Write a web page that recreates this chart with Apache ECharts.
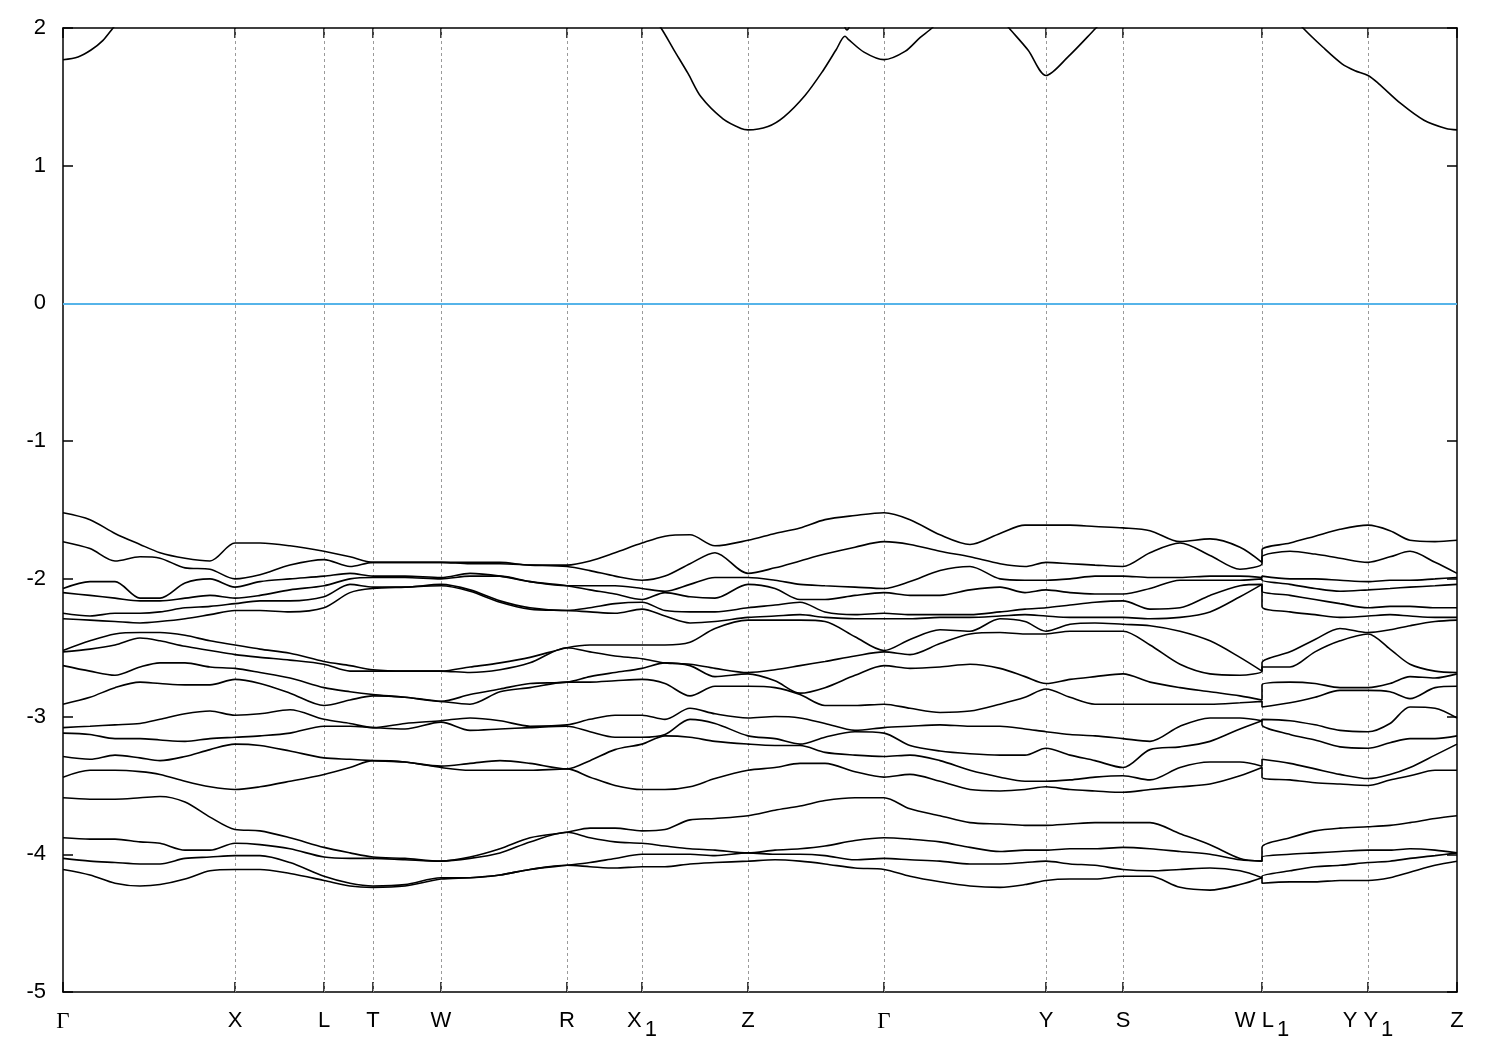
<!DOCTYPE html>
<html>
<head>
<meta charset="utf-8">
<script src="https://cdn.jsdelivr.net/npm/echarts@6/dist/echarts.min.js"></script>
<style>
html,body{margin:0;padding:0;background:#fff;}
#chart{width:1500px;height:1050px;}
</style>
</head>
<body>
<div id="chart"></div>
<script>
// k-path tick positions and names
const kTicks = [0, 1.72, 2.61, 3.10, 3.78, 5.04, 5.79, 6.85, 8.21, 9.83, 10.60, 11.99, 13.05, 13.94];
const kNames = ['Γ', 'X', 'L', 'T', 'W', 'R', 'X1', 'Z', 'Γ', 'Y', 'S', 'W L1', 'Y Y1', 'Z'];
const yTicks = [-5, -4, -3, -2, -1, 0, 1, 2];

// k sample points (shared by valence bands); W|L1 discontinuity is duplicated
const kpts = [0,0.27,0.52,0.77,0.97,1.22,1.47,1.72,1.97,2.27,2.61,2.87,3.10,3.42,3.78,4.07,4.37,4.67,5.04,5.27,5.52,5.79,6.02,6.27,6.52,6.85,7.12,7.37,7.62,7.92,8.21,8.47,8.77,9.07,9.37,9.62,9.83,10.07,10.32,10.60,10.87,11.17,11.47,11.77,11.99,11.99,12.27,12.52,12.77,13.05,13.27,13.47,13.72,13.94];

const band01 = [-1.52,-1.57,-1.67,-1.75,-1.81,-1.85,-1.87,-1.74,-1.74,-1.76,-1.80,-1.84,-1.88,-1.88,-1.88,-1.88,-1.88,-1.90,-1.90,-1.87,-1.81,-1.74,-1.69,-1.68,-1.76,-1.72,-1.67,-1.63,-1.57,-1.54,-1.52,-1.57,-1.68,-1.75,-1.67,-1.61,-1.61,-1.61,-1.62,-1.63,-1.65,-1.73,-1.71,-1.77,-1.88,-1.79,-1.74,-1.69,-1.64,-1.61,-1.65,-1.72,-1.73,-1.72];
const band02 = [-1.73,-1.78,-1.87,-1.84,-1.85,-1.92,-1.93,-2.00,-1.97,-1.90,-1.86,-1.91,-1.88,-1.88,-1.88,-1.89,-1.89,-1.90,-1.91,-1.94,-1.98,-2.01,-1.98,-1.89,-1.81,-1.96,-1.92,-1.87,-1.82,-1.77,-1.73,-1.75,-1.80,-1.84,-1.89,-1.91,-1.88,-1.89,-1.90,-1.91,-1.81,-1.74,-1.83,-1.93,-1.89,-1.84,-1.80,-1.82,-1.85,-1.88,-1.84,-1.80,-1.88,-1.96];
const band03 = [-2.07,-2.02,-2.02,-2.14,-2.14,-2.03,-2.00,-2.06,-2.02,-2.00,-1.98,-1.96,-1.98,-1.98,-1.99,-1.96,-1.98,-2.02,-2.05,-2.05,-2.05,-2.07,-2.09,-2.04,-1.99,-1.99,-2.01,-2.04,-2.05,-2.06,-2.07,-2.02,-1.94,-1.91,-2.00,-2.01,-2.01,-2.00,-1.98,-1.98,-1.99,-1.99,-1.98,-1.98,-1.99,-1.98,-2.00,-2.00,-2.01,-2.02,-2.01,-2.01,-2.00,-1.99];
const band04 = [-2.10,-2.12,-2.14,-2.16,-2.16,-2.14,-2.12,-2.14,-2.12,-2.08,-2.05,-2.00,-1.99,-1.99,-2.00,-1.98,-1.98,-2.02,-2.05,-2.08,-2.11,-2.15,-2.10,-2.13,-2.14,-2.04,-2.07,-2.15,-2.15,-2.12,-2.10,-2.12,-2.12,-2.08,-2.06,-2.10,-2.08,-2.10,-2.11,-2.11,-2.07,-2.01,-2.01,-2.01,-2.00,-2.01,-2.04,-2.07,-2.09,-2.08,-2.07,-2.06,-2.05,-2.04];
const band05 = [-2.25,-2.27,-2.25,-2.25,-2.24,-2.21,-2.20,-2.18,-2.16,-2.16,-2.13,-2.04,-2.06,-2.06,-2.04,-2.08,-2.16,-2.21,-2.23,-2.21,-2.18,-2.17,-2.23,-2.24,-2.24,-2.21,-2.19,-2.17,-2.24,-2.26,-2.25,-2.26,-2.26,-2.26,-2.24,-2.22,-2.21,-2.19,-2.17,-2.16,-2.22,-2.21,-2.12,-2.05,-2.04,-2.09,-2.12,-2.15,-2.18,-2.21,-2.20,-2.20,-2.21,-2.21];
const band06 = [-2.29,-2.30,-2.31,-2.32,-2.31,-2.29,-2.26,-2.23,-2.23,-2.24,-2.21,-2.10,-2.07,-2.06,-2.05,-2.09,-2.17,-2.22,-2.23,-2.24,-2.25,-2.22,-2.27,-2.32,-2.31,-2.28,-2.27,-2.26,-2.28,-2.29,-2.29,-2.29,-2.28,-2.28,-2.27,-2.26,-2.27,-2.28,-2.28,-2.28,-2.29,-2.28,-2.24,-2.13,-2.04,-2.20,-2.24,-2.26,-2.28,-2.27,-2.26,-2.27,-2.28,-2.28];
const band07 = [-2.52,-2.45,-2.40,-2.39,-2.39,-2.41,-2.45,-2.48,-2.51,-2.54,-2.60,-2.63,-2.66,-2.67,-2.67,-2.64,-2.61,-2.57,-2.50,-2.48,-2.48,-2.48,-2.48,-2.46,-2.36,-2.30,-2.30,-2.30,-2.31,-2.42,-2.52,-2.44,-2.37,-2.38,-2.29,-2.31,-2.38,-2.33,-2.32,-2.33,-2.34,-2.38,-2.45,-2.57,-2.67,-2.61,-2.53,-2.44,-2.36,-2.39,-2.37,-2.34,-2.31,-2.30];
const band08 = [-2.53,-2.51,-2.48,-2.43,-2.45,-2.49,-2.52,-2.55,-2.57,-2.59,-2.62,-2.67,-2.67,-2.67,-2.67,-2.68,-2.66,-2.61,-2.50,-2.53,-2.56,-2.58,-2.61,-2.62,-2.65,-2.68,-2.66,-2.63,-2.60,-2.56,-2.53,-2.55,-2.47,-2.40,-2.39,-2.40,-2.40,-2.38,-2.38,-2.38,-2.48,-2.62,-2.69,-2.70,-2.67,-2.64,-2.64,-2.53,-2.45,-2.40,-2.51,-2.62,-2.67,-2.68];
const band09 = [-2.63,-2.67,-2.70,-2.64,-2.61,-2.61,-2.64,-2.65,-2.68,-2.72,-2.79,-2.82,-2.84,-2.86,-2.89,-2.84,-2.80,-2.76,-2.75,-2.71,-2.68,-2.65,-2.61,-2.63,-2.71,-2.69,-2.74,-2.83,-2.79,-2.70,-2.63,-2.65,-2.64,-2.62,-2.65,-2.71,-2.76,-2.73,-2.71,-2.69,-2.75,-2.79,-2.82,-2.85,-2.88,-2.77,-2.75,-2.76,-2.79,-2.79,-2.76,-2.71,-2.72,-2.69];
const band10 = [-2.91,-2.86,-2.79,-2.75,-2.76,-2.77,-2.77,-2.73,-2.76,-2.83,-2.92,-2.88,-2.85,-2.86,-2.89,-2.91,-2.82,-2.79,-2.75,-2.75,-2.74,-2.73,-2.76,-2.85,-2.78,-2.78,-2.79,-2.84,-2.92,-2.92,-2.91,-2.94,-2.97,-2.96,-2.91,-2.86,-2.80,-2.86,-2.91,-2.91,-2.91,-2.91,-2.91,-2.90,-2.89,-2.93,-2.90,-2.86,-2.81,-2.81,-2.82,-2.87,-2.79,-2.78];
const band11 = [-3.08,-3.07,-3.06,-3.05,-3.02,-2.98,-2.96,-2.99,-2.98,-2.95,-3.02,-3.05,-3.08,-3.05,-3.03,-3.01,-3.03,-3.07,-3.06,-3.02,-2.99,-2.99,-3.02,-2.94,-2.98,-3.01,-3.00,-3.01,-3.05,-3.10,-3.08,-3.07,-3.06,-3.07,-3.07,-3.09,-3.11,-3.13,-3.14,-3.16,-3.18,-3.07,-3.01,-3.01,-3.03,-3.02,-3.03,-3.06,-3.10,-3.11,-3.05,-2.93,-2.94,-3.01];
const band12 = [-3.12,-3.13,-3.16,-3.16,-3.17,-3.18,-3.16,-3.15,-3.14,-3.12,-3.07,-3.07,-3.08,-3.09,-3.04,-3.10,-3.09,-3.08,-3.07,-3.11,-3.15,-3.15,-3.13,-3.02,-3.05,-3.14,-3.16,-3.20,-3.15,-3.11,-3.12,-3.21,-3.25,-3.27,-3.28,-3.28,-3.23,-3.28,-3.32,-3.37,-3.24,-3.22,-3.18,-3.09,-3.03,-3.06,-3.13,-3.17,-3.22,-3.23,-3.19,-3.16,-3.16,-3.14];
const band13 = [-3.29,-3.31,-3.28,-3.30,-3.32,-3.29,-3.24,-3.20,-3.21,-3.25,-3.30,-3.31,-3.32,-3.33,-3.36,-3.34,-3.32,-3.34,-3.38,-3.32,-3.24,-3.20,-3.14,-3.15,-3.18,-3.20,-3.21,-3.21,-3.26,-3.28,-3.29,-3.28,-3.32,-3.39,-3.44,-3.47,-3.47,-3.46,-3.44,-3.43,-3.46,-3.37,-3.33,-3.33,-3.36,-3.31,-3.34,-3.38,-3.42,-3.45,-3.42,-3.37,-3.28,-3.20];
const band14 = [-3.44,-3.39,-3.39,-3.40,-3.42,-3.47,-3.51,-3.53,-3.51,-3.47,-3.42,-3.37,-3.32,-3.33,-3.37,-3.39,-3.39,-3.39,-3.38,-3.44,-3.50,-3.53,-3.53,-3.51,-3.45,-3.39,-3.37,-3.34,-3.34,-3.40,-3.44,-3.42,-3.47,-3.53,-3.54,-3.53,-3.51,-3.53,-3.54,-3.55,-3.53,-3.51,-3.49,-3.43,-3.37,-3.44,-3.46,-3.48,-3.49,-3.50,-3.46,-3.43,-3.39,-3.39];
const band15 = [-3.59,-3.60,-3.60,-3.59,-3.58,-3.62,-3.73,-3.82,-3.83,-3.88,-3.95,-3.99,-4.02,-4.03,-4.05,-4.02,-3.96,-3.88,-3.84,-3.81,-3.81,-3.83,-3.82,-3.75,-3.74,-3.72,-3.68,-3.65,-3.61,-3.59,-3.59,-3.67,-3.72,-3.77,-3.78,-3.79,-3.79,-3.78,-3.77,-3.77,-3.77,-3.85,-3.93,-4.03,-4.05,-3.95,-3.88,-3.83,-3.81,-3.80,-3.79,-3.77,-3.74,-3.72];
const band16 = [-3.88,-3.89,-3.89,-3.91,-3.92,-3.97,-3.97,-3.92,-3.93,-3.96,-4.02,-4.03,-4.03,-4.04,-4.05,-4.03,-3.99,-3.91,-3.84,-3.88,-3.91,-3.92,-3.94,-3.96,-3.97,-3.99,-3.97,-3.96,-3.94,-3.90,-3.88,-3.89,-3.91,-3.95,-3.98,-3.97,-3.97,-3.96,-3.96,-3.95,-3.96,-3.98,-4.00,-4.04,-4.05,-4.02,-4.00,-3.99,-3.98,-3.97,-3.97,-3.96,-3.97,-3.99];
const band17 = [-4.03,-4.05,-4.06,-4.07,-4.07,-4.03,-4.02,-4.01,-4.01,-4.06,-4.16,-4.21,-4.23,-4.22,-4.17,-4.17,-4.15,-4.11,-4.08,-4.06,-4.03,-4.00,-4.00,-4.00,-4.01,-3.99,-4.00,-4.00,-4.01,-4.04,-4.03,-4.04,-4.05,-4.07,-4.07,-4.06,-4.05,-4.07,-4.08,-4.11,-4.12,-4.11,-4.10,-4.12,-4.17,-4.16,-4.12,-4.09,-4.08,-4.06,-4.05,-4.03,-4.01,-3.99];
const band18 = [-4.11,-4.15,-4.21,-4.23,-4.22,-4.18,-4.12,-4.11,-4.11,-4.14,-4.19,-4.23,-4.24,-4.23,-4.18,-4.17,-4.15,-4.11,-4.08,-4.09,-4.10,-4.09,-4.09,-4.07,-4.06,-4.05,-4.04,-4.05,-4.07,-4.10,-4.11,-4.16,-4.20,-4.23,-4.24,-4.22,-4.19,-4.18,-4.18,-4.16,-4.16,-4.24,-4.26,-4.22,-4.17,-4.21,-4.20,-4.20,-4.19,-4.19,-4.17,-4.13,-4.08,-4.05];

// conduction band pieces visible below 2 eV: [k, E]
const cond1 = [[0,1.77],[0.15,1.79],[0.28,1.84],[0.40,1.91],[0.50,2.0],[0.59,2.08]];
const cond2 = [[5.89,2.08],[5.98,2.0],[6.11,1.84],[6.25,1.67],[6.38,1.50],[6.60,1.34],[6.78,1.27],[6.85,1.26],[7.05,1.285],[7.21,1.355],[7.42,1.51],[7.60,1.69],[7.73,1.84],[7.82,1.94],[7.85,1.92],[8.01,1.825],[8.21,1.77],[8.42,1.83],[8.57,1.93],[8.69,2.0],[8.77,2.07]];
const cond3 = [[9.37,2.08],[9.46,2.0],[9.65,1.84],[9.83,1.655],[10.05,1.79],[10.33,2.0],[10.41,2.06]];
const cond4 = [[12.32,2.07],[12.40,2.0],[12.60,1.86],[12.79,1.74],[12.92,1.69],[13.05,1.655],[13.15,1.60],[13.38,1.45],[13.61,1.33],[13.83,1.27],[13.94,1.26]];
const cond5 = [[7.79,2.06],[7.84,1.985],[7.89,2.06]];

const valence = [band01,band02,band03,band04,band05,band06,band07,band08,band09,band10,band11,band12,band13,band14,band15,band16,band17,band18];
const conduction = [cond1, cond2, cond3, cond4, cond5];

function labelFor(v) {
  for (let i = 0; i < kTicks.length; i++) {
    if (Math.abs(kTicks[i] - v) < 1e-6) {
      const n = kNames[i];
      if (n === 'Γ') return '{g|Γ}';
      if (n.endsWith('1')) return '{n|' + n.slice(0, -1) + '}{sub|1}';
      return '{n|' + n + '}';
    }
  }
  return '';
}

const lineStyleBand = { color: '#000', width: 1.6 };
const series = [];
valence.forEach(function (b) {
  series.push({
    type: 'line', xAxisIndex: 0, yAxisIndex: 0,
    data: kpts.map(function (k, i) { return [k, b[i]]; }),
    showSymbol: false, symbol: 'none', smooth: 0.3,
    lineStyle: lineStyleBand, silent: true, z: 5
  });
});
conduction.forEach(function (c) {
  series.push({
    type: 'line', xAxisIndex: 0, yAxisIndex: 0, data: c,
    showSymbol: false, symbol: 'none', smooth: 0.3,
    lineStyle: lineStyleBand, silent: true, z: 5, clip: true
  });
});
// guide lines: dashed verticals at interior k-points, blue line at E = 0
series.push({
  type: 'line', data: [], silent: true, z: 2,
  markLine: {
    silent: true, symbol: ['none', 'none'], animation: false,
    label: { show: false },
    lineStyle: { color: '#9a9a9a', type: [3, 3], width: 1 },
    data: kTicks.slice(1, -1).map(function (v) { return { xAxis: v }; })
  }
});
series.push({
  type: 'line', data: [], silent: true, z: 3,
  markLine: {
    silent: true, symbol: ['none', 'none'], animation: false,
    label: { show: false },
    lineStyle: { color: '#56b4e9', type: 'solid', width: 2 },
    data: [{ yAxis: 0 }]
  }
});

const axisLineStyle = { show: true, onZero: false, lineStyle: { color: '#000', width: 1.5 } };
const font = 'Liberation Sans, Arial, sans-serif';
const option = {
  animation: false,
  backgroundColor: '#fff',
  grid: { left: 63, right: 43, top: 28, bottom: 58, containLabel: false },
  xAxis: [
    {
      type: 'value', min: 0, max: 13.94, position: 'bottom',
      axisLine: axisLineStyle,
      axisTick: { show: true, inside: true, length: 10, customValues: kTicks, lineStyle: { color: '#000', width: 1.5 } },
      axisLabel: {
        show: true, customValues: kTicks, margin: 18, showMinLabel: true, showMaxLabel: true,
        formatter: labelFor,
        rich: {
          n: { fontFamily: font, fontSize: 22, color: '#000', verticalAlign: 'top', lineHeight: 26 },
          g: { fontFamily: 'Liberation Serif, Times New Roman, serif', fontSize: 23, color: '#000', verticalAlign: 'top', lineHeight: 26 },
          sub: { fontFamily: font, fontSize: 22, color: '#000', verticalAlign: 'top', lineHeight: 26, padding: [9, 0, 0, 3] }
        }
      },
      splitLine: { show: false }
    },
    {
      type: 'value', min: 0, max: 13.94, position: 'top',
      axisLine: axisLineStyle,
      axisTick: { show: true, inside: true, length: 10, customValues: kTicks, lineStyle: { color: '#000', width: 1.5 } },
      axisLabel: { show: false },
      splitLine: { show: false }
    }
  ],
  yAxis: [
    {
      type: 'value', min: -5, max: 2, interval: 1, position: 'left',
      axisLine: axisLineStyle,
      axisTick: { show: true, inside: true, length: 10, lineStyle: { color: '#000', width: 1.5 } },
      axisLabel: { show: true, margin: 17, fontFamily: font, fontSize: 22, color: '#000', customValues: yTicks },
      splitLine: { show: false }
    },
    {
      type: 'value', min: -5, max: 2, interval: 1, position: 'right',
      axisLine: axisLineStyle,
      axisTick: { show: true, inside: true, length: 10, lineStyle: { color: '#000', width: 1.5 } },
      axisLabel: { show: false },
      splitLine: { show: false }
    }
  ],
  series: series
};

const chart = echarts.init(document.getElementById('chart'), null, { renderer: 'canvas' });
chart.setOption(option);
</script>
</body>
</html>
